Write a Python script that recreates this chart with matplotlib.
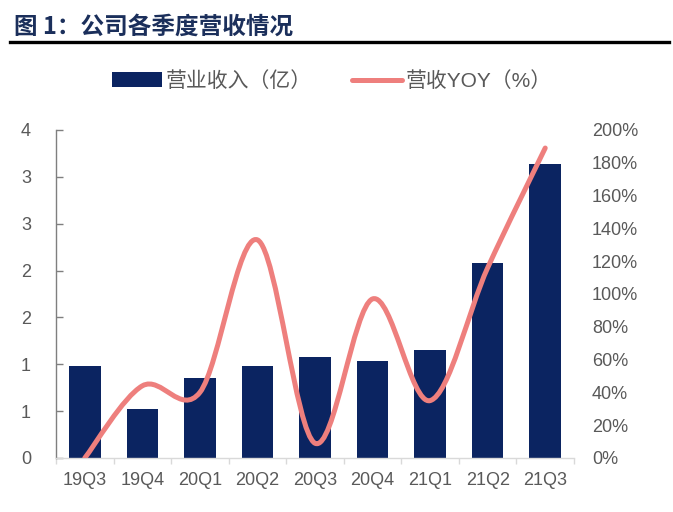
import numpy as np
import matplotlib
matplotlib.use('Agg')
import matplotlib.pyplot as plt
from matplotlib.path import Path
from matplotlib.patches import PathPatch, Patch
from matplotlib.lines import Line2D
from matplotlib.ticker import FixedLocator, FuncFormatter

plt.rcParams['font.family'] = ['Liberation Sans', 'Noto Sans CJK SC', 'DejaVu Sans']

# === DATA ===
quarters = ['19Q3', '19Q4', '20Q1', '20Q2', '20Q3', '20Q4', '21Q1', '21Q2', '21Q3']
revenue = [0.98, 0.52, 0.85, 0.98, 1.08, 1.04, 1.15, 2.08, 3.14]   # 亿
yoy_pct = [0, 44, 40, 133, 9, 97, 35, 116, 189]                   # %

TITLE = '图 1：公司各季度营收情况'
BAR_LABEL = '营业收入（亿）'
LINE_LABEL = '营收YOY（%）'

# === STYLE ===
BAR_COLOR = '#0B2461'
LINE_COLOR = '#EE7F7D'
TEXT_GRAY = '#595959'
TITLE_COLOR = '#1B2F5B'

fig = plt.figure(figsize=(6.73, 5.12), dpi=100)
ax = fig.add_axes([56 / 673, 1 - 458 / 512, (574 - 56) / 673, (458 - 130) / 512])
ax2 = ax.twinx()

x = np.arange(len(quarters))
ax.bar(x, revenue, width=0.55, color=BAR_COLOR, zorder=2)

ax.set_xlim(-0.5, len(quarters) - 0.5)
ax.set_ylim(0, 3.5)
ax.yaxis.set_major_locator(FixedLocator(np.arange(0, 3.51, 0.5)))
# Excel "0" format rounds half away from zero -> 0,1,1,2,2,3,3,4
ax.yaxis.set_major_formatter(FuncFormatter(lambda v, p: str(int(np.floor(v + 0.5)))))
ax.set_xticks(x)
ax.set_xticklabels(quarters)
ax.xaxis.set_minor_locator(FixedLocator(np.arange(-0.5, len(quarters), 1.0)))

ax.tick_params(axis='y', direction='in', length=5, width=1, color='#7f7f7f',
               labelsize=13, labelcolor=TEXT_GRAY, pad=18)
ax.tick_params(axis='x', which='major', length=0, labelsize=13, labelcolor=TEXT_GRAY, pad=10)
ax.tick_params(axis='x', which='minor', direction='out', length=4, width=1, color='#d9d9d9')

for s in ['top', 'right']:
    ax.spines[s].set_visible(False)
ax.spines['left'].set_color('#7f7f7f')
ax.spines['left'].set_linewidth(1)
ax.spines['bottom'].set_color('#d9d9d9')
ax.spines['bottom'].set_linewidth(1)

# smoothed YOY line (Excel-style bezier through the data points)
pts = np.column_stack([x, yoy_pct]).astype(float)
ext = np.vstack([pts[0], pts, pts[-1]])
verts = [tuple(pts[0])]
codes = [Path.MOVETO]
for i in range(len(pts) - 1):
    p_prev, p0, p1, p_next = ext[i], ext[i + 1], ext[i + 2], ext[i + 3]
    c1 = p0 + (p1 - p_prev) / 6
    c2 = p1 - (p_next - p0) / 6
    verts += [tuple(c1), tuple(c2), tuple(p1)]
    codes += [Path.CURVE4] * 3
ax2.add_patch(PathPatch(Path(verts, codes), fill=False, edgecolor=LINE_COLOR,
                        lw=3.6, capstyle='round', joinstyle='round'))

ax2.set_ylim(0, 200)
ax2.yaxis.set_major_locator(FixedLocator(np.arange(0, 201, 20)))
ax2.yaxis.set_major_formatter(FuncFormatter(lambda v, p: f'{v:.0f}%'))
ax2.tick_params(axis='y', length=0, labelsize=13, labelcolor=TEXT_GRAY, pad=13)
for s in ax2.spines.values():
    s.set_visible(False)

# legend
handles = [Patch(facecolor=BAR_COLOR, edgecolor='none'),
           Line2D([0], [0], color=LINE_COLOR, lw=3.6, solid_capstyle='round')]
fig.legend(handles, [BAR_LABEL, LINE_LABEL], loc='center', ncol=2,
           bbox_to_anchor=(332 / 673, 1 - 81 / 512), frameon=False,
           fontsize=15, labelcolor=TEXT_GRAY, handlelength=2.4,
           handletextpad=0.2, columnspacing=1.9)

# title and rule
fig.text(14 / 673, 1 - 27 / 512, TITLE, fontsize=17, fontweight='heavy',
         color=TITLE_COLOR, va='center', ha='left',
         family=['Noto Sans CJK SC', 'DejaVu Sans'])
fig.add_artist(Line2D([10 / 673, 669 / 673], [1 - 41.5 / 512, 1 - 41.5 / 512],
                      color='black', lw=2.4, transform=fig.transFigure))

fig.savefig('out.png', dpi=100)
